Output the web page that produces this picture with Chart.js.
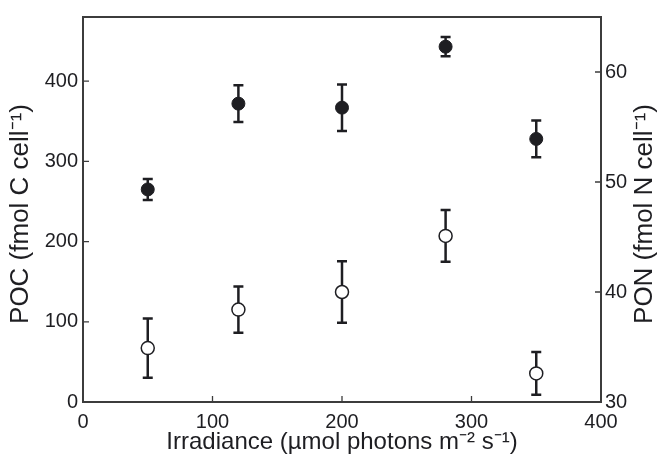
<!DOCTYPE html>
<html>
<head>
<meta charset="utf-8">
<script src="https://cdn.jsdelivr.net/npm/chart.js@4.4.0/dist/chart.umd.min.js"></script>
<style>
  html, body { margin: 0; padding: 0; background: #fff; }
</style>
</head>
<body>
<canvas id="irradianceChart" width="663" height="464"></canvas>
<script>
const irradiance = [50, 120, 200, 280, 350];
const pocValues = [265, 372, 367, 443, 328];
const pocErrors = [13, 23, 29, 12, 23];
const ponValues = [34.9, 38.4, 40.0, 45.1, 32.6];
const ponErrors = [2.7, 2.1, 2.8, 2.35, 1.95];

const xTicks = [0, 100, 200, 300, 400];
const pocTicks = [0, 100, 200, 300, 400];
const ponTicks = [30, 40, 50, 60];

const pocTitle = 'POC (fmol C cell⁻¹)';
const ponTitle = 'PON (fmol N cell⁻¹)';

const ink = '#1e1e22';
const axisColor = '#3c3c3c';
const fontFamily = '"Liberation Sans", Arial, Helvetica, sans-serif';

const toPoints = (values) => irradiance.map((x, i) => ({ x: x, y: values[i] }));

// error bars, box frame, inward tick marks, both y titles reading upward
const errorBarsAndFrame = {
    id: 'errorBarsAndFrame',
    beforeDatasetsDraw(chart) {
        const ctx = chart.ctx;
        const xs = chart.scales.x;
        const area = chart.chartArea;

        const drawErrors = (values, errors, scaleId) => {
            const ys = chart.scales[scaleId];
            ctx.save();
            ctx.strokeStyle = ink;
            ctx.lineWidth = 2.5;
            for (let i = 0; i < values.length; i++) {
                const px = xs.getPixelForValue(irradiance[i]);
                const top = ys.getPixelForValue(values[i] + errors[i]);
                const bottom = ys.getPixelForValue(values[i] - errors[i]);
                ctx.beginPath();
                ctx.moveTo(px, top);
                ctx.lineTo(px, bottom);
                ctx.moveTo(px - 5, top);
                ctx.lineTo(px + 5, top);
                ctx.moveTo(px - 5, bottom);
                ctx.lineTo(px + 5, bottom);
                ctx.stroke();
            }
            ctx.restore();
        };
        drawErrors(pocValues, pocErrors, 'y');
        drawErrors(ponValues, ponErrors, 'y2');

        ctx.save();
        ctx.strokeStyle = axisColor;
        ctx.lineWidth = 2;
        ctx.strokeRect(area.left, area.top, area.right - area.left, area.bottom - area.top);

        ctx.lineWidth = 1.3;
        ctx.beginPath();
        xTicks.forEach(v => {
            const px = xs.getPixelForValue(v);
            ctx.moveTo(px, area.bottom);
            ctx.lineTo(px, area.bottom - 6);
        });
        pocTicks.forEach(v => {
            const py = chart.scales.y.getPixelForValue(v);
            ctx.moveTo(area.left, py);
            ctx.lineTo(area.left + 6, py);
        });
        ponTicks.forEach(v => {
            const py = chart.scales.y2.getPixelForValue(v);
            ctx.moveTo(area.right, py);
            ctx.lineTo(area.right - 6, py);
        });
        ctx.stroke();
        ctx.restore();
    },
    afterDraw(chart) {
        const ctx = chart.ctx;
        const midY = 214;
        const drawTitle = (text, x) => {
            ctx.save();
            ctx.translate(x, midY);
            ctx.rotate(-Math.PI / 2);
            ctx.font = '26px ' + fontFamily;
            ctx.fillStyle = ink;
            ctx.textAlign = 'center';
            ctx.textBaseline = 'middle';
            ctx.fillText(text, 0, 0);
            ctx.restore();
        };
        drawTitle(pocTitle, 21);
        drawTitle(ponTitle, 645);
    }
};

const tickFont = { family: fontFamily, size: 20 };
const titleFont = { family: fontFamily, size: 24 };

new Chart(document.getElementById('irradianceChart'), {
    type: 'scatter',
    data: {
        datasets: [
            {
                label: 'POC',
                data: toPoints(pocValues),
                yAxisID: 'y',
                pointRadius: 6.5,
                pointBackgroundColor: ink,
                pointBorderColor: ink,
                pointBorderWidth: 1,
                clip: false
            },
            {
                label: 'PON',
                data: toPoints(ponValues),
                yAxisID: 'y2',
                pointRadius: 6.5,
                pointBackgroundColor: '#ffffff',
                pointBorderColor: ink,
                pointBorderWidth: 1.5,
                clip: false
            }
        ]
    },
    options: {
        responsive: false,
        animation: false,
        layout: { padding: { top: 15, left: 0, right: 0, bottom: 0 } },
        plugins: {
            legend: { display: false },
            tooltip: { enabled: false }
        },
        scales: {
            x: {
                type: 'linear',
                position: 'bottom',
                min: 0,
                max: 400,
                afterBuildTicks: (scale) => { scale.ticks = xTicks.map(v => ({ value: v })); },
                afterFit: (scale) => { scale.height = 62; },
                grid: { display: false, drawTicks: false },
                border: { display: false },
                ticks: { font: tickFont, color: ink, padding: 8, maxRotation: 0 },
                title: {
                    display: true,
                    text: 'Irradiance (µmol photons m⁻² s⁻¹)',
                    font: titleFont,
                    color: ink,
                    padding: { top: 0, bottom: 7 }
                }
            },
            y: {
                type: 'linear',
                position: 'left',
                min: 0,
                max: 480,
                afterBuildTicks: (scale) => { scale.ticks = pocTicks.map(v => ({ value: v })); },
                afterFit: (scale) => { scale.width = 83; },
                grid: { display: false, drawTicks: false },
                border: { display: false },
                ticks: { font: tickFont, color: ink, padding: 5 }
            },
            y2: {
                type: 'linear',
                position: 'right',
                min: 30,
                max: 65,
                afterBuildTicks: (scale) => { scale.ticks = ponTicks.map(v => ({ value: v })); },
                afterFit: (scale) => { scale.width = 62; },
                grid: { display: false, drawTicks: false },
                border: { display: false },
                ticks: { font: tickFont, color: ink, padding: 4 }
            }
        }
    },
    plugins: [errorBarsAndFrame]
});
</script>
</body>
</html>
